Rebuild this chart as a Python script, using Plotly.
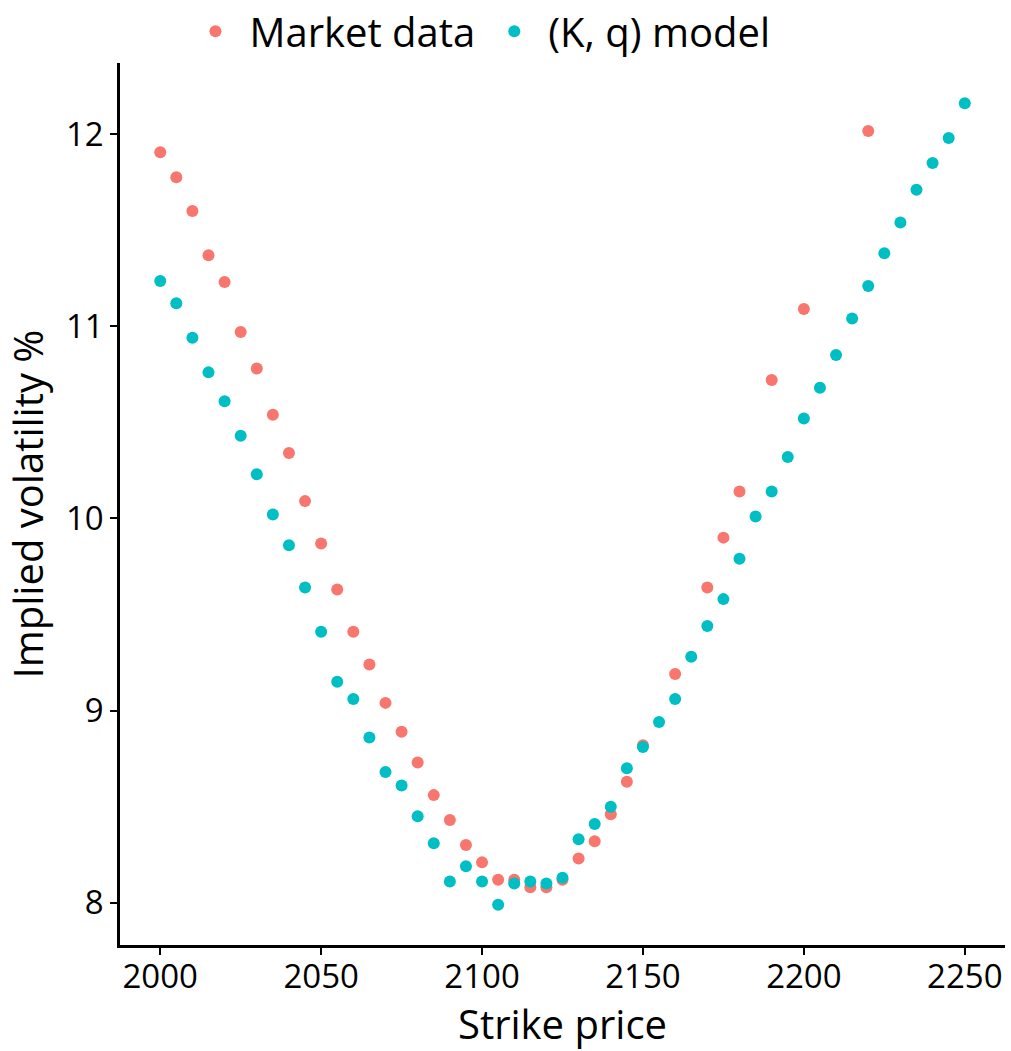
import plotly.graph_objects as go

market_strike = [2000, 2005, 2010, 2015, 2020, 2025, 2030, 2035, 2040, 2045, 2050, 2055, 2060,
                 2065, 2070, 2075, 2080, 2085, 2090, 2095, 2100, 2105, 2110, 2115, 2120, 2125,
                 2130, 2135, 2140, 2145, 2150, 2160, 2170, 2175, 2180, 2190, 2200, 2220]
market_iv = [11.906, 11.776, 11.60, 11.37, 11.23, 10.97, 10.78, 10.54, 10.34, 10.09, 9.87, 9.63, 9.41,
             9.24, 9.04, 8.89, 8.73, 8.56, 8.43, 8.30, 8.21, 8.12, 8.12, 8.08, 8.08, 8.12,
             8.23, 8.32, 8.46, 8.63, 8.82, 9.19, 9.64, 9.90, 10.14, 10.72, 11.09, 12.016]

model_strike = list(range(2000, 2251, 5))
model_iv = [11.235, 11.12, 10.94, 10.76, 10.61, 10.43, 10.23, 10.02, 9.86, 9.64, 9.41, 9.15, 9.06,
            8.86, 8.68, 8.61, 8.45, 8.31, 8.11, 8.19, 8.11, 7.99, 8.10, 8.11, 8.10, 8.13,
            8.33, 8.41, 8.50, 8.70, 8.81, 8.94, 9.06, 9.28, 9.44, 9.58, 9.79, 10.01, 10.14,
            10.32, 10.52, 10.68, 10.85, 11.04, 11.21, 11.38, 11.54, 11.71, 11.85, 11.98, 12.16]

x_ticks = [2000, 2050, 2100, 2150, 2200, 2250]
y_ticks = [8, 9, 10, 11, 12]

FONT = "Open Sans"

fig = go.Figure()
fig.add_trace(go.Scatter(x=market_strike, y=market_iv, mode="markers", name="Market data",
                         marker=dict(color="#F8766D", size=12)))
fig.add_trace(go.Scatter(x=model_strike, y=model_iv, mode="markers", name="(K, q) model",
                         marker=dict(color="#00BFC4", size=12)))

axis_common = dict(showgrid=False, zeroline=False, showline=True, linecolor="black", linewidth=2.5,
                   ticks="outside", ticklen=7, tickwidth=2, tickcolor="black", automargin=False,
                   tickfont=dict(family=FONT, size=33, color="black"))

fig.update_layout(
    width=1011, height=1051,
    paper_bgcolor="white", plot_bgcolor="white",
    margin=dict(l=120, r=6, t=63, b=106, autoexpand=False),
    font=dict(family=FONT, color="black"),
    xaxis=dict(range=[1987.5, 2262.5], tickvals=x_ticks, ticktext=[str(v) for v in x_ticks],
               ticklabelstandoff=-6,
               title=dict(text="Strike price", font=dict(family=FONT, size=40), standoff=2),
               **axis_common),
    yaxis=dict(range=[7.78, 12.37], tickvals=y_ticks, ticktext=[str(v) for v in y_ticks],
               title=dict(text="Implied volatility %", font=dict(family=FONT, size=40), standoff=14),
               **axis_common),
    legend=dict(orientation="h", x=0.405, xanchor="center", y=1.036, yref="paper", yanchor="middle",
                font=dict(family=FONT, size=40), itemsizing="constant", itemwidth=58,
                tracegroupgap=0, bgcolor="rgba(0,0,0,0)"),
    showlegend=True,
)

fig.write_html("out.html")
